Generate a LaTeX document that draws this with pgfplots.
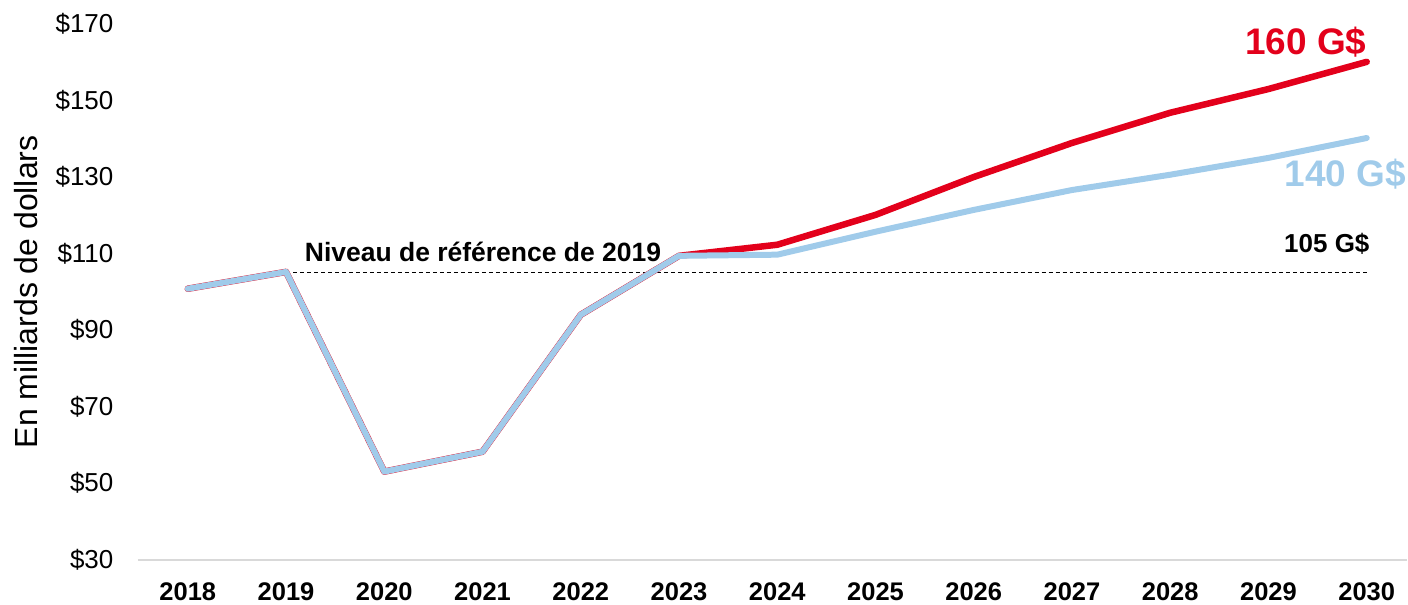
\documentclass[border=0pt]{standalone}
\usepackage{fontspec}
\setmainfont{Liberation Sans}
\usepackage{pgfplots}
\pgfplotsset{compat=1.18}
\definecolor{cred}{HTML}{E3001B}
\definecolor{cblue}{HTML}{A0CBEA}
\definecolor{cgray}{HTML}{D9D9D9}
\begin{document}
\begin{tikzpicture}
\begin{axis}[
  scale only axis,
  width=1270pt, height=536pt,
  xmin=-0.508, xmax=12.41,
  ymin=30, ymax=170,
  axis x line*=bottom, axis y line*=left,
  axis line style={draw=none},
  clip=false,
  xtick={0,...,12},
  xticklabels={2018,2019,2020,2021,2022,2023,2024,2025,2026,2027,2028,2029,2030},
  ytick={30,50,70,90,110,130,150,170},
  yticklabels={\$30,\$50,\$70,\$90,\$110,\$130,\$150,\$170},
  tick style={draw=none},
  /pgf/number format/assume math mode=true,
  xticklabel style={font=\fontsize{25.5}{30}\selectfont\bfseries, yshift=-20pt},
  yticklabel style={font=\fontsize{26}{30}\selectfont, xshift=-21pt},
  ylabel={En milliards de dollars},
  ylabel style={font=\fontsize{32}{36}\selectfont, yshift=11pt},
]
\draw[cgray, line width=2pt] (axis cs:-0.508,30) -- (axis cs:12.41,30);
\addplot[black, line width=1.4pt, dash pattern=on 4pt off 3pt] coordinates {(1,105) (12,105)};
\addplot[cred, line width=6.5pt, line cap=round, line join=round] coordinates {
(0,100.8) (1,105.2) (2,53) (3,58.2) (4,94) (5,109.4) (6,112.3) (7,120.1) (8,130) (9,138.9) (10,146.8) (11,153) (12,160.1)};
\addplot[cblue, line width=6pt, line cap=round, line join=round] coordinates {
(0,100.8) (1,105.2) (2,53) (3,58.2) (4,94) (5,109.4) (6,109.7) (7,115.7) (8,121.4) (9,126.6) (10,130.6) (11,135) (12,140.2)};
\node[anchor=base west, inner sep=0pt, font=\fontsize{26.5}{30}\selectfont\bfseries] at (axis cs:1.19,107.8) {Niveau de référence de 2019};
\node[anchor=base east, inner sep=0pt, font=\fontsize{26}{30}\selectfont\bfseries] at (axis cs:12.03,110.2) {105 G\$};
\node[anchor=base east, inner sep=0pt, text=cred, font=\fontsize{37}{42}\selectfont\bfseries] at (axis cs:12,161.9) {160 G\$};
\node[anchor=base east, inner sep=0pt, text=cblue, font=\fontsize{37}{42}\selectfont\bfseries] at (axis cs:12.4,127.4) {140 G\$};
\end{axis}
\path[use as bounding box] (-138pt,-43pt) rectangle (1270pt,560pt);
\end{tikzpicture}
\end{document}
